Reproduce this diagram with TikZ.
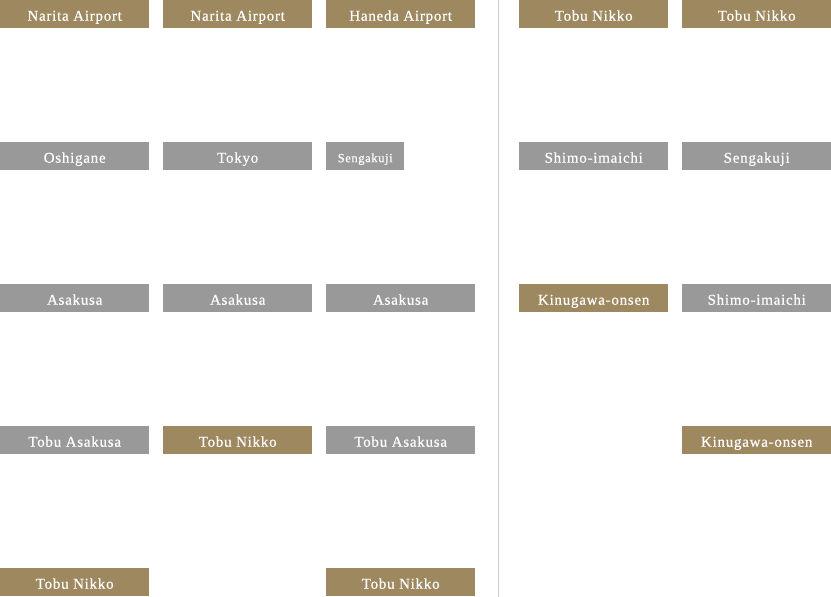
\documentclass[tikz,border=0pt]{standalone}
\usepackage{fontspec}
\setmainfont{Liberation Serif}[LetterSpace=5,FakeBold=0.5]
\definecolor{gold}{HTML}{9E8860}
\definecolor{gry}{HTML}{999999}
\definecolor{sep}{HTML}{CCCCCC}
\begin{document}
\begin{tikzpicture}[x=1pt,y=-1pt,
  st/.style={anchor=north west,minimum width=149pt,minimum height=28pt,inner sep=0pt,text height=13pt,text depth=0pt,text=white,font=\fontsize{15}{15}\selectfont},
  g/.style={st,fill=gold},
  s/.style={st,fill=gry},
  sm/.style={s,minimum width=78pt,text height=12pt,font=\fontsize{12.5}{12.5}\selectfont}]
\useasboundingbox (0,0) rectangle (831,597);
\fill[white] (0,0) rectangle (831,597);
\coordinate (lt) at (498.5,0);
\coordinate (lb) at (498.5,597);
\draw[sep,line width=1.2pt] (lt) -- (lb);
% column 1
\node[g] (a1) at (0,0) {Narita Airport};
\node[s] (a2) at (0,142) {Oshigane};
\node[s] (a3) at (0,284) {Asakusa};
\node[s] (a4) at (0,426) {Tobu Asakusa};
\node[g] (a5) at (0,568) {Tobu Nikko};
% column 2
\node[g] (b1) at (163,0) {Narita Airport};
\node[s] (b2) at (163,142) {Tokyo};
\node[s] (b3) at (163,284) {Asakusa};
\node[g] (b4) at (163,426) {Tobu Nikko};
% column 3
\node[g] (c1) at (326,0) {Haneda Airport};
\node[sm] (c2) at (326,142) {Sengakuji};
\node[s] (c3) at (326,284) {Asakusa};
\node[s] (c4) at (326,426) {Tobu Asakusa};
\node[g] (c5) at (326,568) {Tobu Nikko};
% column 4
\node[g] (d1) at (519,0) {Tobu Nikko};
\node[s] (d2) at (519,142) {Shimo-imaichi};
\node[g] (d3) at (519,284) {Kinugawa-onsen};
% column 5
\node[g] (e1) at (682,0) {Tobu Nikko};
\node[s] (e2) at (682,142) {Sengakuji};
\node[s] (e3) at (682,284) {Shimo-imaichi};
\node[g] (e4) at (682,426) {Kinugawa-onsen};
\end{tikzpicture}
\end{document}
